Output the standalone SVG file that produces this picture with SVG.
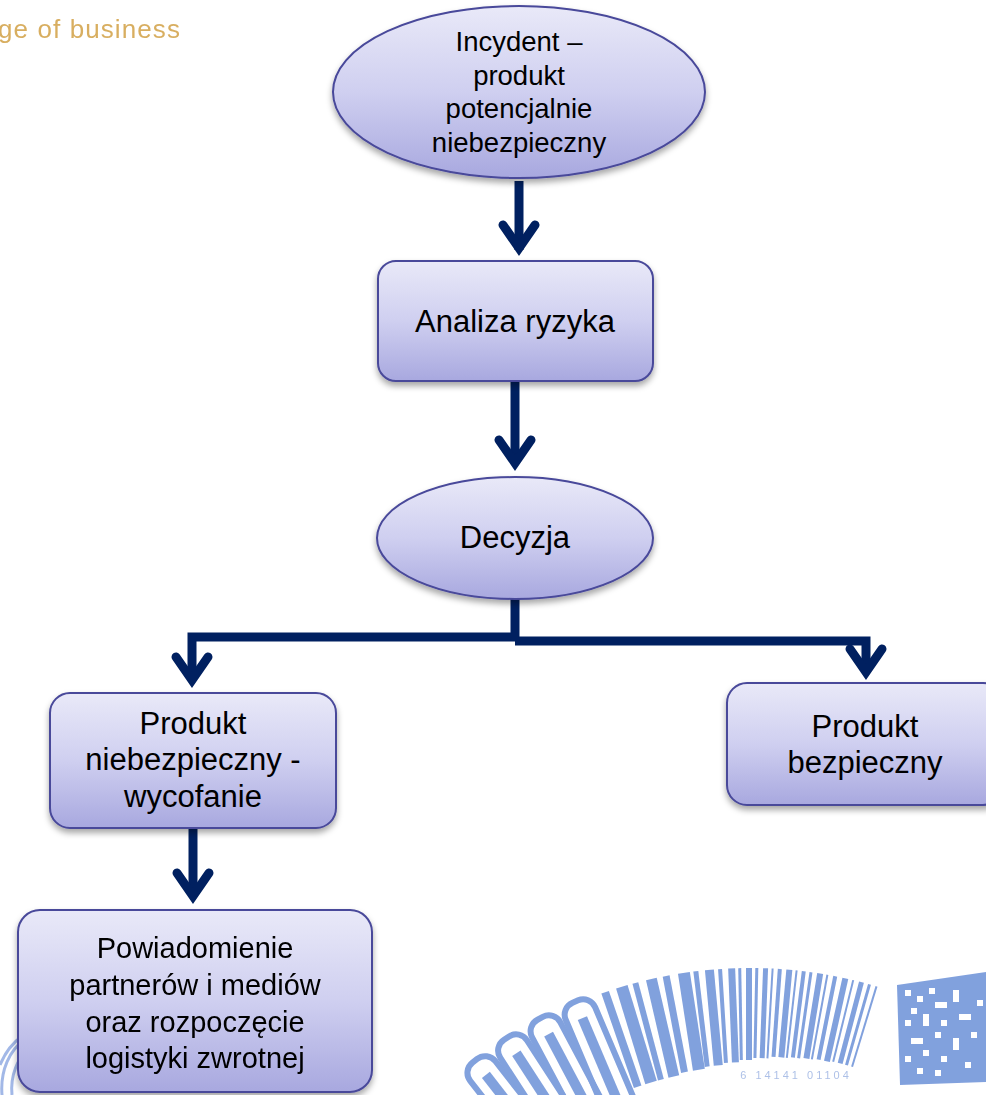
<svg xmlns="http://www.w3.org/2000/svg" width="986" height="1095" viewBox="0 0 986 1095">
<defs>
<linearGradient id="g" x1="0" y1="0" x2="0" y2="1">
<stop offset="0" stop-color="#e9e9f8"/>
<stop offset="0.5" stop-color="#cfcff0"/>
<stop offset="1" stop-color="#a8a8df"/>
</linearGradient>
<filter id="sh" x="-10%" y="-10%" width="120%" height="130%">
<feDropShadow dx="0" dy="4" stdDeviation="3" flood-color="#000" flood-opacity="0.35"/>
</filter>
<filter id="soft"><feGaussianBlur stdDeviation="0.6"/></filter>
</defs>
<style>
.n{fill:url(#g);stroke:#48489a;stroke-width:2;filter:url(#sh)}
.t{font-family:"Liberation Sans",Arial,sans-serif;fill:#000;text-anchor:middle}
.c{fill:none;stroke:#002060;stroke-width:9}
.h{fill:none;stroke:#002060;stroke-width:9;stroke-linecap:round;stroke-linejoin:miter}
.wm{fill:#7b9cdc}
.wo{fill:none;stroke:#7b9cdc;stroke-width:6}
</style>
<rect width="986" height="1095" fill="#fff"/>

<g id="watermark" opacity="0.95">
<text x="-2" y="38" font-family="Liberation Sans,Arial,sans-serif" font-size="26" letter-spacing="1.1" fill="#d6aa58" filter="url(#soft)">ge of business</text>
<g id="barcode">
<g transform="rotate(-38 750 1413)"><rect class="wo" x="734" y="966" width="32" height="150" rx="13"/><rect class="wm" x="745" y="984" width="10" height="130"/></g>
<g transform="rotate(-33 750 1413)"><rect class="wo" x="734" y="966" width="32" height="150" rx="13"/><rect class="wm" x="745" y="984" width="10" height="130"/></g>
<g transform="rotate(-28 750 1413)"><rect class="wo" x="734" y="966" width="32" height="150" rx="13"/><rect class="wm" x="745" y="984" width="10" height="130"/></g>
<g transform="rotate(-23 750 1413)"><rect class="wo" x="734" y="966" width="32" height="150" rx="13"/><rect class="wm" x="745" y="984" width="10" height="130"/></g>
<rect class="wm" x="746" y="968" width="8" height="100" transform="rotate(-19 750 1413)"/>
<rect class="wm" x="746" y="968" width="12" height="100" transform="rotate(-17 750 1413)"/>
<rect class="wm" x="746" y="968" width="6" height="100" transform="rotate(-14.8 750 1413)"/>
<rect class="wm" x="746" y="968" width="11" height="100" transform="rotate(-13 750 1413)"/>
<rect class="wm" x="746" y="968" width="7" height="98" transform="rotate(-10.8 750 1413)"/>
<rect class="wm" x="746" y="968" width="12" height="98" transform="rotate(-8.8 750 1413)"/>
<rect class="wm" x="746" y="968" width="5" height="96" transform="rotate(-6.8 750 1413)"/>
<rect class="wm" x="746" y="968" width="9" height="96" transform="rotate(-5.3 750 1413)"/>
<rect class="wm" x="746" y="968" width="4" height="94" transform="rotate(-3.6 750 1413)"/>
<rect class="wm" x="746" y="968" width="7" height="94" transform="rotate(-2.3 750 1413)"/>
<rect class="wm" x="746" y="968" width="3" height="92" transform="rotate(-1 750 1413)"/>
<rect class="wm" x="746" y="968" width="6" height="92" transform="rotate(0 750 1413)"/>
<rect class="wm" x="746" y="968" width="3" height="90" transform="rotate(1.2 750 1413)"/>
<rect class="wm" x="746" y="968" width="5" height="90" transform="rotate(2.2 750 1413)"/>
<rect class="wm" x="746" y="968" width="2" height="90" transform="rotate(3.3 750 1413)"/>
<rect class="wm" x="746" y="968" width="4" height="88" transform="rotate(4.1 750 1413)"/>
<rect class="wm" x="746" y="968" width="6" height="88" transform="rotate(5.2 750 1413)"/>
<rect class="wm" x="746" y="968" width="2" height="88" transform="rotate(6.4 750 1413)"/>
<rect class="wm" x="746" y="968" width="4" height="87" transform="rotate(7.2 750 1413)"/>
<rect class="wm" x="746" y="968" width="3" height="87" transform="rotate(8.2 750 1413)"/>
<rect class="wm" x="746" y="968" width="6" height="86" transform="rotate(9.2 750 1413)"/>
<rect class="wm" x="746" y="968" width="2" height="86" transform="rotate(10.4 750 1413)"/>
<rect class="wm" x="746" y="968" width="4" height="85" transform="rotate(11.3 750 1413)"/>
<rect class="wm" x="746" y="968" width="6" height="85" transform="rotate(12.5 750 1413)"/>
<rect class="wm" x="746" y="968" width="2" height="84" transform="rotate(13.8 750 1413)"/>
<rect class="wm" x="746" y="968" width="5" height="84" transform="rotate(14.7 750 1413)"/>
<rect class="wm" x="746" y="968" width="3" height="84" transform="rotate(15.9 750 1413)"/>
<rect class="wm" x="746" y="968" width="2" height="84" transform="rotate(16.9 750 1413)"/>
<text x="796" y="1079" font-family="Liberation Sans,Arial,sans-serif" font-size="11" fill="#a9bde6" text-anchor="middle" letter-spacing="3">6   14141   01104</text>
</g>
<g id="matrix">
<polygon class="wm" points="897,985 986,972 986,1082 900,1085"/>
<g fill="#fff">
<rect x="905" y="990" width="6" height="6"/><rect x="917" y="996" width="6" height="6"/><rect x="929" y="988" width="6" height="6"/>
<rect x="911" y="1008" width="6" height="6"/><rect x="935" y="1002" width="12" height="6"/><rect x="953" y="990" width="6" height="12"/>
<rect x="905" y="1020" width="6" height="6"/><rect x="923" y="1014" width="6" height="12"/><rect x="941" y="1020" width="6" height="6"/>
<rect x="959" y="1014" width="12" height="6"/><rect x="911" y="1038" width="12" height="6"/><rect x="935" y="1032" width="6" height="6"/>
<rect x="953" y="1038" width="6" height="12"/><rect x="971" y="1032" width="6" height="6"/><rect x="905" y="1056" width="6" height="6"/>
<rect x="923" y="1050" width="6" height="6"/><rect x="941" y="1056" width="6" height="6"/><rect x="965" y="1062" width="6" height="6"/>
<rect x="917" y="1068" width="6" height="6"/><rect x="935" y="1070" width="6" height="6"/><rect x="977" y="1000" width="6" height="6"/>
</g>
</g>
<g id="swirl-left" fill="none" stroke="#9db5e6" stroke-width="3">
<path d="M2 1095 C 0 1070, 10 1050, 24 1040"/>
<path d="M12 1095 C 10 1075, 18 1058, 28 1050"/>
<path d="M0 1065 C 6 1050, 14 1042, 22 1036"/>
</g>
</g>

<g id="connectors">
<path class="c" d="M519 181 V250"/>
<polyline class="h" points="503,225 519,248 535,225"/>
<path class="c" d="M515 382 V463"/>
<polyline class="h" points="499,440 515,463 531,440"/>
<path class="c" d="M515 599 V641"/>
<path class="c" d="M515 637 H192 V678"/>
<polyline class="h" points="176,657 192,680 208,657"/>
<path class="c" d="M515 641 H866 V670"/>
<polyline class="h" points="850,649 866,672 882,649"/>
<path class="c" d="M193 829 V894"/>
<polyline class="h" points="177,873 193,896 209,873"/>
</g>

<g id="n-incydent">
<ellipse class="n" cx="519" cy="92" rx="186" ry="86"/>
<text class="t" font-size="27.5"><tspan x="519" y="51">Incydent –</tspan><tspan x="519" y="85">produkt</tspan><tspan x="519" y="118">potencjalnie</tspan><tspan x="519" y="152">niebezpieczny</tspan></text>
</g>
<g id="n-analiza">
<rect class="n" x="378" y="261" width="275" height="120" rx="18"/>
<text class="t" x="515" y="332" font-size="31">Analiza ryzyka</text>
</g>
<g id="n-decyzja">
<ellipse class="n" cx="515" cy="538" rx="138" ry="61"/>
<text class="t" x="515" y="548" font-size="31">Decyzja</text>
</g>
<g id="n-niebezpieczny">
<rect class="n" x="50" y="693" width="286" height="135" rx="20"/>
<text class="t" font-size="31"><tspan x="193" y="734">Produkt</tspan><tspan x="193" y="770">niebezpieczny -</tspan><tspan x="193" y="807">wycofanie</tspan></text>
</g>
<g id="n-bezpieczny">
<rect class="n" x="727" y="683" width="276" height="122" rx="20"/>
<text class="t" font-size="31"><tspan x="865" y="737">Produkt</tspan><tspan x="865" y="773">bezpieczny</tspan></text>
</g>
<g id="n-powiadomienie">
<rect class="n" x="18" y="910" width="354" height="182" rx="22"/>
<text class="t" font-size="29"><tspan x="195" y="958">Powiadomienie</tspan><tspan x="195" y="995">partnerów i mediów</tspan><tspan x="195" y="1032">oraz rozpoczęcie</tspan><tspan x="195" y="1068">logistyki zwrotnej</tspan></text>
</g>
</svg>
